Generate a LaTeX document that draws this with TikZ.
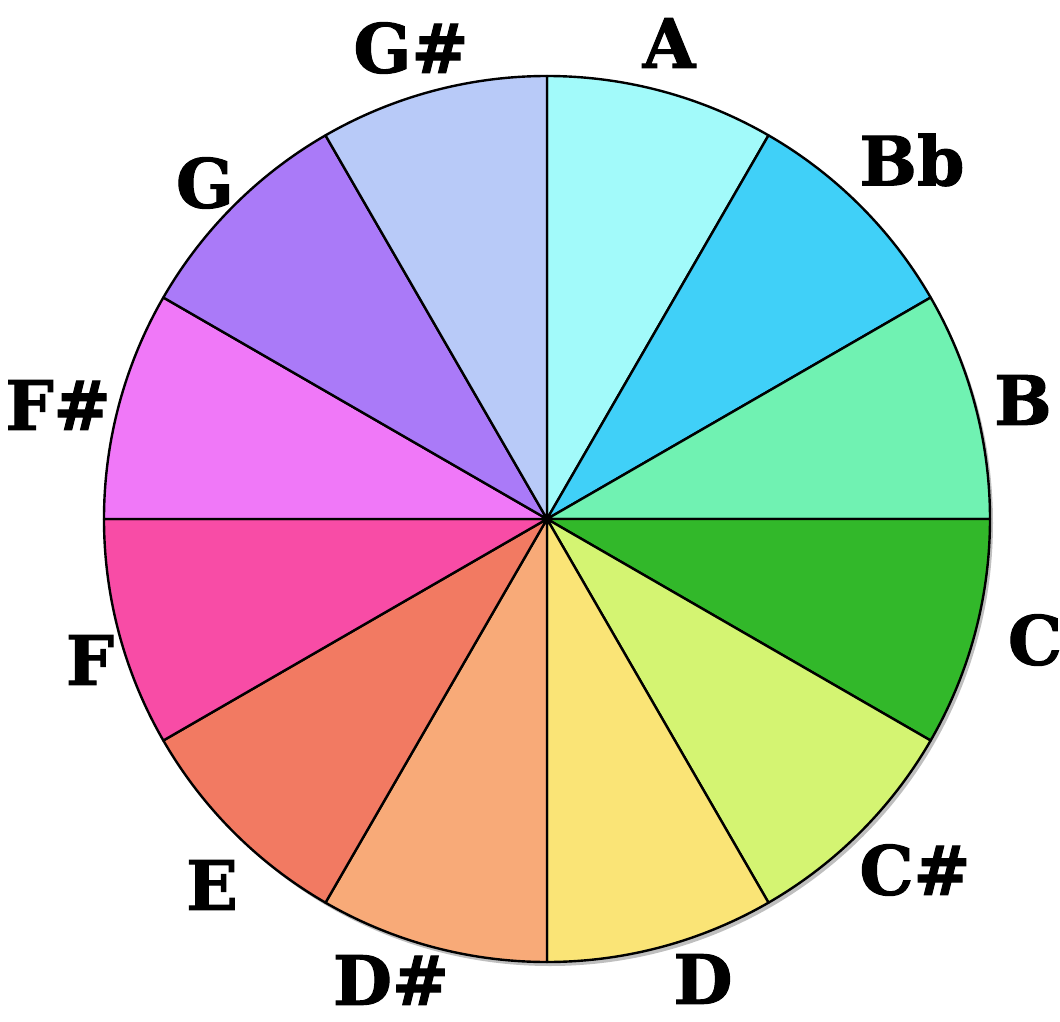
\documentclass[tikz,border=0pt]{standalone}
\usepackage{fontspec}
\setmainfont{DejaVu Serif}
\newfontfamily\heavyfont{DejaVu Serif}[BoldFeatures={FakeBold=1.5}]
\usepackage{xcolor}

\definecolor{cA}{HTML}{A2FAFA}
\definecolor{cBb}{HTML}{40D0F8}
\definecolor{cB}{HTML}{70F2B2}
\definecolor{cC}{HTML}{32B82A}
\definecolor{cCs}{HTML}{D4F472}
\definecolor{cD}{HTML}{FAE476}
\definecolor{cDs}{HTML}{F8AA78}
\definecolor{cE}{HTML}{F27A62}
\definecolor{cF}{HTML}{F84CA6}
\definecolor{cFs}{HTML}{F078F8}
\definecolor{cG}{HTML}{AA7AF8}
\definecolor{cGs}{HTML}{B8CAF8}

\tikzset{
  wedge/.style={draw=black, line width=2.4pt, line join=round},
  note/.style={font=\fontsize{68}{68}\heavyfont\bfseries, inner sep=0pt}
}

\begin{document}
\begin{tikzpicture}[x=1pt, y=1pt]
  \useasboundingbox (-547,-502) rectangle (513,519);

  % shadow
  \fill[black!25] (3,-4) circle (443);

  % wedges, A first, clockwise
  \foreach \col [count=\i from 0] in {cA,cBb,cB,cC,cCs,cD,cDs,cE,cF,cFs,cG,cGs}
  {
    \pgfmathsetmacro{\st}{90-30*\i}
    \pgfmathsetmacro{\en}{60-30*\i}
    \filldraw[wedge, fill=\col] (0,0) -- (\st:443) arc[start angle=\st, end angle=\en, radius=443] -- cycle;
  }
  \fill (0,0) circle (5);

  % note names
  \node[note] (A)   at (122,476)   {A};
  \node[note] (Bb)  at (365,359)   {Bb};
  \node[note] (B)   at (476,119)   {B};
  \node[note] (C)   at (488,-121)  {C};
  \node[note] (Cs)  at (368,-351)  {C\#};
  \node[note] (D)   at (156,-460)  {D};
  \node[note] (Ds)  at (-156,-461) {D\#};
  \node[note] (E)   at (-335,-366) {E};
  \node[note] (F)   at (-457,-141) {F};
  \node[note] (Fs)  at (-489,114)  {F\#};
  \node[note] (G)   at (-342,336)  {G};
  \node[note] (Gs)  at (-136,471)  {G\#};
\end{tikzpicture}
\end{document}
